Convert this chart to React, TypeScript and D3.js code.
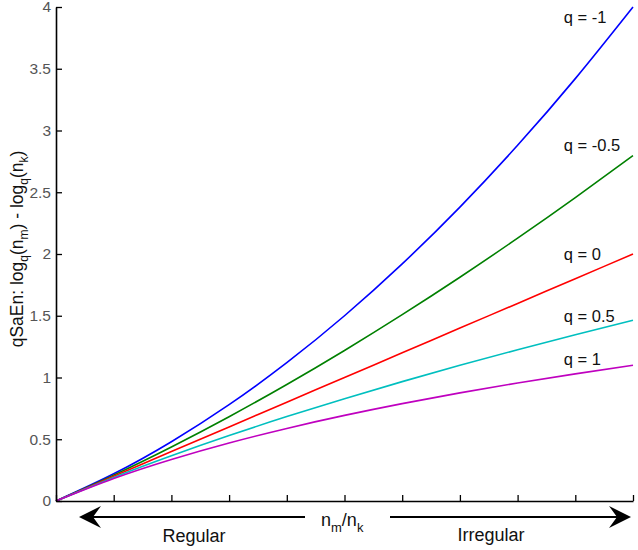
import React, { useEffect, useRef } from 'react';
import * as d3 from 'd3';

// n_m/n_k positions (tick positions on the x axis)
const ratios = [1, 1.2, 1.4, 1.6, 1.8, 2, 2.2, 2.4, 2.6, 2.8, 3];

const qLabels = ['q = -1', 'q = -0.5', 'q = 0', 'q = 0.5', 'q = 1'];
const qColors = ['#0000ff', '#008000', '#ff0000', '#00bfbf', '#bf00bf'];

const qm1 = [0, 0.22, 0.48, 0.78, 1.12, 1.5, 1.92, 2.38, 2.88, 3.42, 4];
const qm05 = [0, 0.2097, 0.4377, 0.6826, 0.9433, 1.219, 1.5088, 1.812, 2.1282, 2.4569, 2.7974];
const q0 = [0, 0.2, 0.4, 0.6, 0.8, 1, 1.2, 1.4, 1.6, 1.8, 2];
const q05 = [0, 0.1909, 0.3664, 0.5298, 0.6833, 0.8284, 0.9665, 1.0984, 1.2249, 1.3466, 1.4641];
const q1 = [0, 0.1823, 0.3365, 0.47, 0.5878, 0.6931, 0.7885, 0.8755, 0.9555, 1.0296, 1.0986];

const yTicks = [0, 0.5, 1, 1.5, 2, 2.5, 3, 3.5, 4];
// where each q label sits (data coords)
const labelX = [2.76, 2.76, 2.76, 2.76, 2.76];
const labelY = [3.87, 2.83, 1.95, 1.45, 1.1];

const App: React.FC = () => {
  const svgRef = useRef<SVGSVGElement>(null);
  const width = 638;
  const height = 550;

  useEffect(() => {
    if (!svgRef.current) return;
    const svg = d3.select(svgRef.current);
    svg.selectAll('*').remove();

    const margin = { top: 7, right: 5, bottom: 49, left: 56 };
    const font = 'Arial, "Liberation Sans", sans-serif';

    const x = d3.scaleLinear().domain([1, 3]).range([margin.left, width - margin.right]);
    const y = d3.scaleLinear().domain([0, 4]).range([height - margin.bottom, margin.top]);

    const series = [qm1, qm05, q0, q05, q1];

    // curves
    series.forEach((vals, i) => {
      svg.append('path')
        .datum(vals)
        .attr('fill', 'none')
        .attr('stroke', qColors[i])
        .attr('stroke-width', 1.6)
        .attr('d', d3.line<number>()
          .x((_, j) => x(ratios[j]))
          .y(d => y(d))
          .curve(d3.curveNatural));
    });

    // axes, ticks inward
    const xAxis = svg.append('g')
      .attr('transform', `translate(0,${y(0)})`)
      .call(d3.axisBottom(x).tickValues(ratios).tickSizeInner(-6).tickSizeOuter(0).tickFormat(() => ''));
    xAxis.select('.domain').attr('stroke', '#000').attr('stroke-width', 1.6);
    xAxis.selectAll('.tick line').attr('stroke', '#000').attr('stroke-width', 1.3);

    const yAxis = svg.append('g')
      .attr('transform', `translate(${x(1)},0)`)
      .call(d3.axisLeft(y).tickValues(yTicks).tickSizeInner(-6).tickSizeOuter(0).tickPadding(5)
        .tickFormat(d => String(d)));
    yAxis.select('.domain').attr('stroke', '#000').attr('stroke-width', 1.6);
    yAxis.selectAll('.tick line').attr('stroke', '#000').attr('stroke-width', 1.3);
    yAxis.selectAll('.tick text')
      .attr('font-family', font)
      .attr('font-size', 15.5)
      .attr('fill', '#555');

    // y title
    const yt = svg.append('text')
      .attr('transform', `translate(23,249) rotate(-90)`)
      .attr('text-anchor', 'middle')
      .attr('font-family', font)
      .attr('font-size', 17.5)
      .attr('fill', '#111');
    yt.append('tspan').text('qSaEn: log');
    yt.append('tspan').attr('dy', 5).attr('font-size', 12).text('q');
    yt.append('tspan').attr('dy', -5).text('(n');
    yt.append('tspan').attr('dy', 5).attr('font-size', 12).text('m');
    yt.append('tspan').attr('dy', -5).text(') - log');
    yt.append('tspan').attr('dy', 5).attr('font-size', 12).text('q');
    yt.append('tspan').attr('dy', -5).text('(n');
    yt.append('tspan').attr('dy', 5).attr('font-size', 12).text('k');
    yt.append('tspan').attr('dy', -5).text(')');

    // q labels
    qLabels.forEach((lab, i) => {
      svg.append('text')
        .attr('x', x(labelX[i]))
        .attr('y', y(labelY[i]))
        .attr('font-family', font)
        .attr('font-size', 16.5)
        .attr('fill', '#111')
        .text(lab);
    });

    // arrows below the axis
    const ay = 517;
    svg.append('line')
      .attr('x1', 305).attr('x2', 92).attr('y1', ay).attr('y2', ay)
      .attr('stroke', '#000').attr('stroke-width', 2);
    svg.append('path')
      .attr('d', `M79,${ay} L101,${ay - 11} L93,${ay} L101,${ay + 11} Z`)
      .attr('fill', '#000');
    svg.append('line')
      .attr('x1', 390).attr('x2', 618).attr('y1', ay).attr('y2', ay)
      .attr('stroke', '#000').attr('stroke-width', 2);
    svg.append('path')
      .attr('d', `M631,${ay} L609,${ay - 11} L617,${ay} L609,${ay + 11} Z`)
      .attr('fill', '#000');

    // x title n_m/n_k
    const xt = svg.append('text')
      .attr('x', 321).attr('y', 526)
      .attr('font-family', font)
      .attr('font-size', 18)
      .attr('fill', '#111');
    xt.append('tspan').text('n');
    xt.append('tspan').attr('dy', 6).attr('font-size', 13).text('m');
    xt.append('tspan').attr('dy', -6).text('/n');
    xt.append('tspan').attr('dy', 6).attr('font-size', 13).text('k');

    svg.append('text')
      .attr('x', 194).attr('y', 542)
      .attr('text-anchor', 'middle')
      .attr('font-family', font).attr('font-size', 18).attr('fill', '#111')
      .text('Regular');
    svg.append('text')
      .attr('x', 491).attr('y', 541)
      .attr('text-anchor', 'middle')
      .attr('font-family', font).attr('font-size', 18).attr('fill', '#111')
      .text('Irregular');
  }, []);

  return (
    <svg
      ref={svgRef}
      width={width}
      height={height}
      style={{ position: 'absolute', left: 0, top: 0, background: '#fff' }}
    />
  );
};

export default App;
